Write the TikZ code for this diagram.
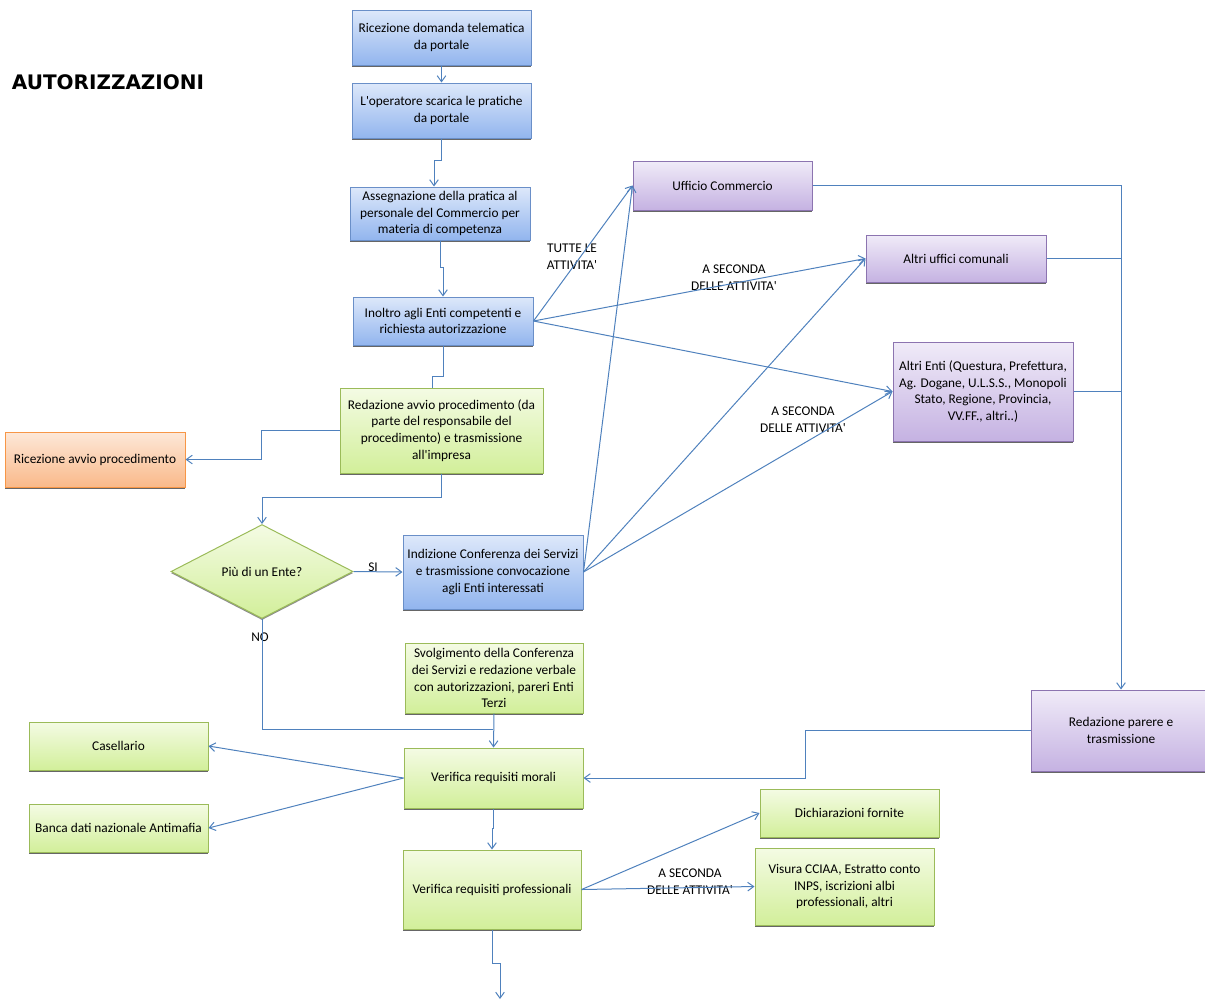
\documentclass[tikz,border=0pt]{standalone}
\usepackage{fontspec}
\setmainfont{Carlito}[Ligatures=TeXOff]
\newfontfamily\titlefont{DejaVu Sans}
\usetikzlibrary{arrows.meta,positioning,shapes.geometric,shadows}

\definecolor{bluetop}{HTML}{DDE8FA}
\definecolor{bluebot}{HTML}{92B5EE}
\definecolor{blueline}{HTML}{6A8FC8}
\definecolor{greentop}{HTML}{F4FBE4}
\definecolor{greenbot}{HTML}{D2EF9A}
\definecolor{greenline}{HTML}{9BBB59}
\definecolor{violatop}{HTML}{F0EBF8}
\definecolor{violabot}{HTML}{C5B2E2}
\definecolor{violaline}{HTML}{8C74B0}
\definecolor{arantop}{HTML}{FDE8D8}
\definecolor{aranbot}{HTML}{F9B98A}
\definecolor{aranline}{HTML}{F79646}
\definecolor{linecol}{HTML}{4F81BD}

\begin{document}
\begin{tikzpicture}[
    x=0.75pt, y=-0.75pt,
    wh/.style 2 args={minimum width=#1*0.75pt, minimum height=#2*0.75pt},
    box/.style={draw, rectangle, align=center, inner sep=2pt, line width=0.75pt,
      font=\fontsize{10}{12.6}\selectfont,
      general shadow={fill=black!60, shadow yshift=-1.6pt}},
    azzurro/.style={box, top color=bluetop, bottom color=bluebot, draw=blueline},
    verde/.style={box, top color=greentop, bottom color=greenbot, draw=greenline},
    viola/.style={box, top color=violatop, bottom color=violabot, draw=violaline},
    arancio/.style={box, top color=arantop, bottom color=aranbot, draw=aranline},
    decisione/.style={diamond, aspect=1.94, inner sep=0pt, line width=0.75pt,
      draw=greenline, top color=greentop, bottom color=greenbot,
      font=\fontsize{10}{12.6}\selectfont,
      general shadow={fill=black!45, shadow yshift=-1.2pt}},
    etichetta/.style={align=center, inner sep=0pt, font=\fontsize{10}{12.6}\selectfont},
    linea/.style={draw=linecol, line width=0.75pt},
    freccia/.style={linea, -{Straight Barb[length=4.5pt,width=6.5pt]}}
  ]
    \useasboundingbox (0,0) rectangle (1205,1001);
    \clip (0,0) rectangle (1205,1001);

    \node[font=\titlefont\bfseries\fontsize{15}{18}\selectfont] (titolo) at (108,82) {AUTORIZZAZIONI};

    % colonna principale
    \node[azzurro, wh={179}{55}] (ricezione) at (441.5,37.5) {Ricezione domanda telematica\\da portale};
    \node[azzurro, wh={179}{55}] (scarica) at (441.5,110.5) {L'operatore scarica le pratiche\\da portale};
    \node[azzurro, wh={180}{53}] (assegna) at (440,213.5) {Assegnazione della pratica al\\personale del Commercio per\\materia di competenza};
    \node[azzurro, wh={180}{48}] (inoltro) at (443,321) {Inoltro agli Enti competenti e\\richiesta autorizzazione};
    \node[verde, wh={203}{85}] (avvio) at (441.5,430.5) {Redazione avvio procedimento (da\\parte del responsabile del\\procedimento) e trasmissione\\all'impresa};
    \node[arancio, wh={180}{55}] (ricavvio) at (95,459.5) {Ricezione avvio procedimento};
    \node[decisione, wh={182}{94}] (enti) at (262,571.5) {Più di un Ente?};
    \node[azzurro, wh={180}{74}] (indizione) at (493,572) {Indizione Conferenza dei Servizi\\e trasmissione convocazione\\agli Enti interessati};
    \node[verde, wh={178}{70}] (svolg) at (494,678) {Svolgimento della Conferenza\\dei Servizi e redazione verbale\\con autorizzazioni, pareri Enti\\Terzi};
    \node[verde, wh={179}{60}] (morali) at (493.5,778) {Verifica requisiti morali};
    \node[verde, wh={178}{79}] (profess) at (492,889.5) {Verifica requisiti professionali};
    \node[verde, wh={179}{48}] (casell) at (118.5,746) {Casellario};
    \node[verde, wh={179}{48}] (antimafia) at (118.5,828) {Banca dati nazionale Antimafia};
    \node[verde, wh={179}{48}] (dichiar) at (849.5,813) {Dichiarazioni fornite};
    \node[verde, wh={179}{77}] (visura) at (844.5,886.5) {Visura CCIAA, Estratto conto\\INPS, iscrizioni albi\\professionali, altri};

    % enti coinvolti
    \node[viola, wh={179}{49}] (uffcomm) at (722.5,185.5) {Ufficio Commercio};
    \node[viola, wh={180}{47}] (altriuff) at (956,258.5) {Altri uffici comunali};
    \node[viola, wh={180}{99}] (altrienti) at (983,391.5) {Altri Enti (Questura, Prefettura,\\Ag. Dogane, U.L.S.S., Monopoli\\Stato, Regione, Provincia,\\VV.FF., altri..)};
    \node[viola, wh={180}{81}] (parere) at (1121,730.5) {Redazione parere e\\trasmissione};

    % etichette
    \node[etichetta] (tutte) at (572,257) {TUTTE LE\\ATTIVITA'};
    \node[etichetta] (seconda1) at (734,278) {A SECONDA\\DELLE ATTIVITA'};
    \node[etichetta] (seconda2) at (803,420) {A SECONDA\\DELLE ATTIVITA'};
    \node[etichetta] (seconda3) at (690,882) {A SECONDA\\DELLE ATTIVITA'};
    \node[etichetta] (si) at (373,567) {SI};
    \node[etichetta] (no) at (260,637) {NO};

    \coordinate (giunto) at (493,729);
    \coordinate (fine) at (500,999);

    \draw[freccia] (ricezione) -- (scarica);
    \draw[freccia] (scarica.south) -- ++(0,22) -| ([xshift=-4.5pt]assegna.north);
    \draw[freccia] (assegna.south) -- ++(0,27) -| (inoltro.north);
    \draw[linea] (inoltro.south) -- ++(0,31) -| ([xshift=-6.4pt]avvio.north);
    \draw[freccia] (avvio.west) -- ++(-78,0) |- (ricavvio.east);
    \draw[freccia] (avvio.south) -- ++(0,24) -| (enti.north);
    \draw[freccia] (enti.east) -- (indizione.west);
    \draw[linea] (enti.south) |- (giunto);
    \draw[freccia] (svolg.south) -- (morali.north);

    \draw[freccia] (inoltro.east) -- (uffcomm.west);
    \draw[freccia] (inoltro.east) -- (altriuff.west);
    \draw[freccia] (inoltro.east) -- (altrienti.west);
    \draw[freccia] (indizione.east) -- (uffcomm.west);
    \draw[freccia] (indizione.east) -- (altriuff.west);
    \draw[freccia] (indizione.east) -- (altrienti.west);

    \draw[freccia] (uffcomm.east) -| (parere.north);
    \draw[linea] (altriuff.east) -- (altriuff.east -| parere.north);
    \draw[linea] (altrienti.east) -- (altrienti.east -| parere.north);
    \draw[freccia] (parere.west) -- ++(-225,0) |- (morali.east);

    \draw[freccia] (morali.west) -- (casell.east);
    \draw[freccia] (morali.west) -- (antimafia.east);
    \draw[freccia] (morali.south) -- ++(0,20) -| (profess.north);
    \draw[freccia] (profess.east) -- (dichiar.west);
    \draw[freccia] (profess.east) -- (visura.west);
    \draw[freccia] (profess.south) -- ++(0,34) -| (fine);
  \end{tikzpicture}
\end{document}
